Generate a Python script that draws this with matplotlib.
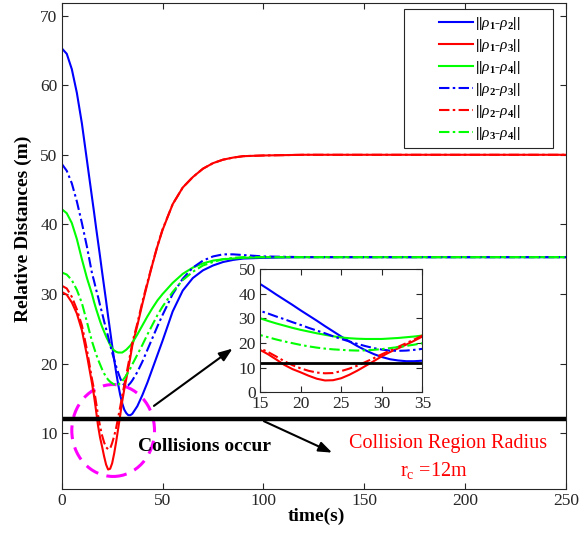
import numpy as np
import matplotlib
matplotlib.use('Agg')
import matplotlib.pyplot as plt
from matplotlib.patches import Ellipse, Rectangle

plt.rcParams['font.family'] = ['Liberation Serif', 'DejaVu Serif']
plt.rcParams['mathtext.fontset'] = 'custom'
plt.rcParams['mathtext.rm'] = 'Liberation Serif'
plt.rcParams['mathtext.it'] = 'Liberation Serif:italic'
plt.rcParams['mathtext.bf'] = 'Liberation Serif:bold'

# ── pairwise distances between agents over time ──
t = [0, 2.5, 5, 7.5, 10, 12.5,
     15, 16, 17, 18, 19, 20, 21, 22, 23, 24, 25, 26, 27, 28, 29, 30, 31, 32, 33, 34, 35,
     37.5, 40, 42.5, 45, 47.5, 50, 55, 60, 65, 70, 75, 80, 85, 90, 100, 120, 250]

d12 = [65.3, 64.5, 62.3, 58.9, 54.5, 49.2,
       43.9, 41.8, 39.6, 37.5, 35.4, 33.2, 31.1, 29.0, 26.8, 24.7, 22.6, 20.6, 18.7, 17.0, 15.5,
       14.3, 13.4, 12.9, 12.6, 12.6, 12.8,
       13.9, 15.5, 17.3, 19.3, 21.3, 23.3, 27.5, 30.5, 32.3, 33.4, 34.1, 34.6, 34.9, 35.1, 35.2, 35.3, 35.3]
d13 = [30.3, 29.9, 28.8, 27.2, 24.8, 21.2,
       17.2, 15.4, 13.3, 11.1, 9.4, 8.1, 6.7, 5.5, 4.8, 4.9, 5.7, 7.1, 8.8, 10.7, 12.6,
       14.6, 16.3, 17.8, 19.3, 20.9, 22.6,
       25.5, 28.6, 31.5, 34.3, 36.9, 39.2, 42.9, 45.3, 46.8, 48.0, 48.8, 49.3, 49.6, 49.8, 49.9, 50.0, 50.0]
d14 = [42.2, 41.6, 40.2, 37.9, 35.0, 32.3,
       30.0, 28.9, 27.9, 27.0, 26.1, 25.3, 24.6, 23.9, 23.3, 22.7, 22.2, 21.9, 21.7, 21.6, 21.6,
       21.6, 21.8, 22.0, 22.3, 22.6, 23.0,
       24.2, 25.5, 26.8, 28.0, 29.1, 30.0, 31.6, 32.9, 33.8, 34.4, 34.8, 35.0, 35.1, 35.2, 35.3, 35.3, 35.3]
d23 = [48.7, 47.7, 45.9, 43.3, 40.2, 36.8,
       33.0, 31.9, 30.7, 29.6, 28.4, 27.3, 26.1, 25.0, 23.9, 22.7, 21.6, 20.6, 19.6, 18.7, 17.9,
       17.3, 16.9, 16.8, 16.9, 17.2, 17.6,
       18.8, 20.3, 22.0, 23.7, 25.4, 27.0, 30.0, 32.2, 33.8, 34.8, 35.4, 35.7, 35.7, 35.6, 35.4, 35.3, 35.3]
d24 = [31.2, 30.8, 29.6, 27.8, 25.5, 22.0,
       17.8, 16.3, 14.5, 12.6, 11.0, 9.7, 8.7, 8.0, 7.7, 7.8, 8.6, 9.6, 10.8, 12.3, 13.8,
       15.4, 16.9, 18.4, 19.9, 21.4, 23.0,
       25.8, 28.9, 31.7, 34.4, 37.0, 39.3, 42.9, 45.3, 46.8, 48.0, 48.8, 49.3, 49.6, 49.8, 49.9, 50.0, 50.0]
d34 = [33.1, 32.8, 32.0, 30.6, 28.7, 26.0,
       23.2, 22.3, 21.4, 20.6, 19.9, 19.2, 18.6, 18.1, 17.7, 17.4, 17.2, 17.0, 16.9, 17.0, 17.2,
       17.5, 17.9, 18.3, 18.8, 19.3, 19.9,
       21.3, 22.7, 24.2, 25.6, 27.0, 28.2, 30.3, 32.0, 33.2, 34.1, 34.6, 35.0, 35.2, 35.3, 35.3, 35.3, 35.3]

series = [d12, d13, d14, d23, d24, d34]
labels = [r'||$\rho_{\mathbf{1}}$-$\rho_{\mathbf{2}}$||',
          r'||$\rho_{\mathbf{1}}$-$\rho_{\mathbf{3}}$||',
          r'||$\rho_{\mathbf{1}}$-$\rho_{\mathbf{4}}$||',
          r'||$\rho_{\mathbf{2}}$-$\rho_{\mathbf{3}}$||',
          r'||$\rho_{\mathbf{2}}$-$\rho_{\mathbf{4}}$||',
          r'||$\rho_{\mathbf{3}}$-$\rho_{\mathbf{4}}$||']
colors = ['#0000ff', '#ff0000', '#00ff00', '#0000ff', '#ff0000', '#00ff00']
styles = ['-', '-', '-', '-.', '-.', '-.']

r_c = 12
x_ticks = [0, 50, 100, 150, 200, 250]
y_ticks = [10, 20, 30, 40, 50, 60, 70]
inset_xticks = [15, 20, 25, 30, 35]
inset_yticks = [0, 10, 20, 30, 40, 50]

TICK_C = '#262626'
DASHDOT = (0, (5, 1.6, 1.2, 1.6))


def style_box(ax, fs):
    ax.tick_params(direction='in', top=True, right=True, length=4, width=0.8,
                   labelsize=fs, colors=TICK_C, labelcolor=TICK_C, pad=3)
    for s in ax.spines.values():
        s.set_color(TICK_C); s.set_linewidth(0.8)


fig = plt.figure(figsize=(5.79, 5.35), dpi=100)
ax = fig.add_axes([0.1066, 0.086, 0.871, 0.9084])

for y, lab, c, ls in zip(series, labels, colors, styles):
    ax.plot(t, y, color=c, lw=1.5, linestyle=DASHDOT if ls == '-.' else ls, label=lab)
ax.axhline(r_c, color='black', lw=3.2)

ax.set_xlim(0, 250); ax.set_ylim(2, 71.8)
ax.set_xticks(x_ticks); ax.set_yticks(y_ticks)
style_box(ax, 12.5)

ax.set_xlabel('time(s)', fontsize=14, fontweight='bold')
ax.xaxis.set_label_coords(0.504, -0.057)
ax.xaxis.label.set_va('center')
ax.set_ylabel('Relative Distances (m)', fontsize=14, fontweight='bold')
ax.yaxis.set_label_coords(-0.077, 0.536)
ax.yaxis.label.set_va('center')

# legend box is wider than its entries, so the frame is drawn separately
ax.add_patch(Rectangle((0.6788, 0.7023), 0.296, 0.2854, transform=ax.transAxes,
                       facecolor='white', edgecolor=TICK_C, lw=0.8, zorder=4))
leg = ax.legend(loc='center left', bbox_to_anchor=(0.748, 0.844),
                prop={'weight': 'bold', 'size': 11}, frameon=False,
                handlelength=2.2, labelspacing=0.33, borderpad=0, handletextpad=0.15,
                borderaxespad=0)
leg.set_zorder(5)

# collision zone marker
ax.add_patch(Ellipse((25.5, 10.4), 41, 13.2, fill=False, edgecolor='#ff00ff',
                     lw=2.2, linestyle=(0, (4.5, 2.8))))
ax.annotate('', xy=(85.8, 22.4), xytext=(44.6, 13.7),
            arrowprops=dict(arrowstyle='-|>,head_length=0.8,head_width=0.3',
                            color='black', lw=1.5))
ax.annotate('', xy=(135.3, 7.06), xytext=(99, 11.9),
            arrowprops=dict(arrowstyle='-|>,head_length=0.8,head_width=0.3',
                            color='black', lw=1.5))
ax.text(70.6, 8.06, 'Collisions occur', fontsize=14, fontweight='bold',
        ha='center', va='center', color='black')
ax.text(191.4, 8.6, 'Collision Region Radius', fontsize=14.5, color='red',
        ha='center', va='center')
ax.text(184.3, 4.66, r'r$_{\mathregular{c}}$ =12m', fontsize=14.5, color='red',
        ha='center', va='center')

# zoomed view of the close-approach window
ins = fig.add_axes([0.449, 0.2667, 0.2806, 0.2308])
for y, c, ls in zip(series, colors, styles):
    ins.plot(t, y, color=c, lw=1.5, linestyle=DASHDOT if ls == '-.' else ls)
ins.axhline(r_c, color='black', lw=2)
ins.set_xlim(15, 35); ins.set_ylim(0, 50)
ins.set_xticks(inset_xticks); ins.set_yticks(inset_yticks)
style_box(ins, 12.5)

fig.savefig('out.png', dpi=100)
